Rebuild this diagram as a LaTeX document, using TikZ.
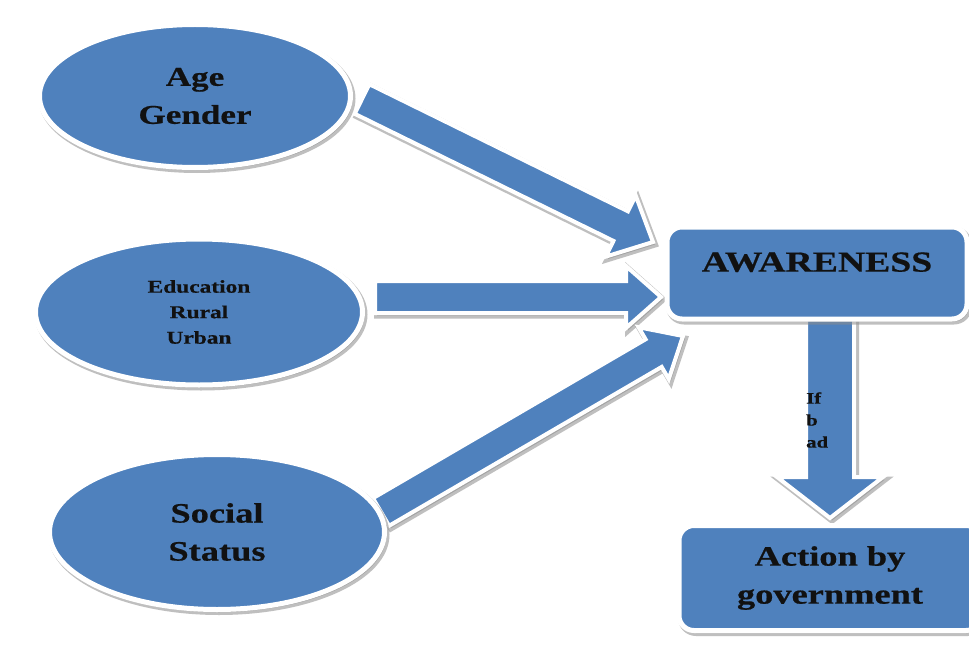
\documentclass[tikz,border=0pt]{standalone}
\usepackage{fontspec}
\setmainfont{Liberation Serif}[FakeStretch=1.3, BoldFeatures={FakeBold=0.6}]
\usetikzlibrary{calc,shapes.geometric,shadows}

\definecolor{boxblue}{HTML}{4F81BD}
\definecolor{inkdark}{HTML}{111111}

\tikzset{
  softshadow/.style={drop shadow={shadow xshift=2pt, shadow yshift=-2.5pt,
      fill=black!45, draw=black!45, line width=6pt, opacity=0.55}},
  bluepart/.style={fill=boxblue, draw=white, line width=5pt, softshadow,
      text=inkdark},
  oval/.style={bluepart, ellipse, inner sep=0pt, align=center},
  panel/.style={bluepart, rectangle, rounded corners=15pt, inner sep=0pt,
      align=center},
  fatarrow/.style={fill=boxblue, draw=white, line width=4pt, softshadow,
      line join=miter},
}

% block arrow: #1 tail, #2 tip, #3 half shaft width, #4 half head width,
% #5 head length
\newcommand\blockarrow[5]{%
  \coordinate (ba-base) at ($(#2)!#5!(#1)$);
  \path[fatarrow] ($(#1)!#3!90:(#2)$) -- ($(ba-base)!#3!90:(#2)$)
    -- ($(ba-base)!#4!90:(#2)$) -- (#2) -- ($(ba-base)!#4!-90:(#2)$)
    -- ($(ba-base)!#3!-90:(#2)$) -- ($(#1)!#3!-90:(#2)$) -- cycle;
}

\begin{document}
\begin{tikzpicture}[x=1pt,y=-1pt]
\useasboundingbox (0,0) rectangle (969,658);
\fill[white] (0,0) rectangle (969,658);

% arrow ends
\coordinate (t1) at (362,99);  \coordinate (h1) at (653,242);
\coordinate (t2) at (375,297); \coordinate (h2) at (661,297);
\coordinate (t3) at (381,512); \coordinate (h3) at (683,336);
\coordinate (t4) at (830,310); \coordinate (h4) at (830,518);

\blockarrow{t1}{h1}{16.5pt}{34pt}{36pt}
\blockarrow{t2}{h2}{16pt}{31pt}{35pt}
\blockarrow{t3}{h3}{16pt}{30pt}{34pt}
\blockarrow{t4}{h4}{24pt}{53pt}{41pt}

% factor ellipses
\node[oval, minimum width=311pt, minimum height=143pt,
      font=\bfseries\fontsize{27}{38}\selectfont] (age) at (195,96) {Age\\Gender};
\node[oval, minimum width=327pt, minimum height=146pt,
      font=\bfseries\fontsize{18}{25.5}\selectfont] (edu) at (199,312) {Education\\Rural\\Urban};
\node[oval, minimum width=335pt, minimum height=155pt,
      font=\bfseries\fontsize{28}{38}\selectfont] (soc) at (217,532) {Social\\Status};

% outcome boxes
\node[panel, minimum width=300pt, minimum height=92pt, text depth=22pt,
      font=\bfseries\fontsize{29}{34}\selectfont] (aware) at (817,273) {AWARENESS};
\node[panel, minimum width=302pt, minimum height=105pt,
      font=\bfseries\fontsize{28}{38}\selectfont] (act) at (830,578) {Action by\\government};

% condition on the downward arrow
\node[font=\bfseries\fontsize{16}{22}\selectfont, align=left, anchor=west,
      text=inkdark, inner sep=0pt] (cond) at (806,420) {If\\b\\ad};
\end{tikzpicture}
\end{document}
